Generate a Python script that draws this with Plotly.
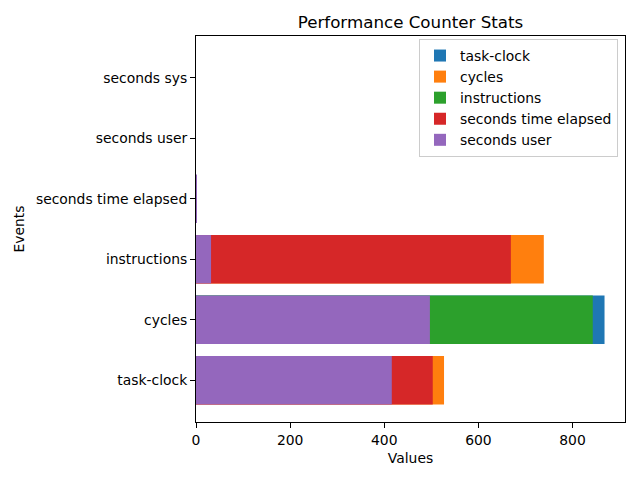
import plotly.graph_objects as go

categories = ["task-clock", "cycles", "instructions", "seconds time elapsed", "seconds user", "seconds sys"]
series_names = ["task-clock", "cycles", "instructions", "seconds time elapsed", "seconds user"]
task_clock = [0, 868, 0, 0, 0, 0]
cycles = [527, 0, 739, 0, 0, 0]
instructions = [0, 843, 0, 0, 0, 0]
seconds_time_elapsed = [503, 0, 669, 0, 0, 0]
seconds_user = [416, 497, 32, 1.8, 0, 0]
colors = ["#1f77b4", "#ff7f0e", "#2ca02c", "#d62728", "#9467bd"]

series = [task_clock, cycles, instructions, seconds_time_elapsed, seconds_user]

fig = go.Figure()
for name, vals, col in zip(series_names, series, colors):
    fig.add_trace(go.Bar(
        y=categories, x=vals, orientation="h", name=name,
        marker=dict(color=col, line=dict(width=0)), width=0.8, opacity=1,
    ))

# page body has an 8px margin; plot area placed to compensate
L, R, T, B = 188, 617, 28, 414
font = "DejaVu Sans, sans-serif"
fig.update_layout(
    barmode="overlay",
    width=640, height=480,
    margin=dict(l=L, r=640 - R, t=T, b=480 - B, autoexpand=False),
    paper_bgcolor="white", plot_bgcolor="white",
    font=dict(family=font, size=13.9, color="black"),
    title=dict(text="Performance Counter Stats", x=(L + R) / 2 / 640, xanchor="center",
               y=1 - 14 / 480, yanchor="middle", font=dict(size=16.7, color="black")),
    showlegend=True,
    legend=dict(x=(610 - L) / (R - L), xanchor="right", y=1 - 3 / (B - T), yanchor="top",
                bgcolor="rgba(255,255,255,0.8)", bordercolor="#cccccc", borderwidth=1,
                font=dict(size=13.9), traceorder="normal", tracegroupgap=0),
    bargap=0.2,
)
fig.update_xaxes(range=[0, 911.5], tickvals=[0, 200, 400, 600, 800], showgrid=False,
                 zeroline=False, showline=True, linecolor="black", linewidth=1, mirror=True,
                 ticks="outside", ticklen=5, tickcolor="black", automargin=False,
                 tickfont=dict(size=13.9),
                 title=dict(text="Values", standoff=6, font=dict(size=13.9)))
fig.update_yaxes(type="category", categoryorder="array", categoryarray=categories,
                 range=[-0.69, 5.69], showgrid=False, zeroline=False, showline=True,
                 linecolor="black", linewidth=1, mirror=True, ticks="outside", ticklen=5,
                 tickcolor="black", automargin=False, tickfont=dict(size=13.9),
                 title=dict(text="Events", standoff=8, font=dict(size=13.9)))
fig.write_html("out.html")
